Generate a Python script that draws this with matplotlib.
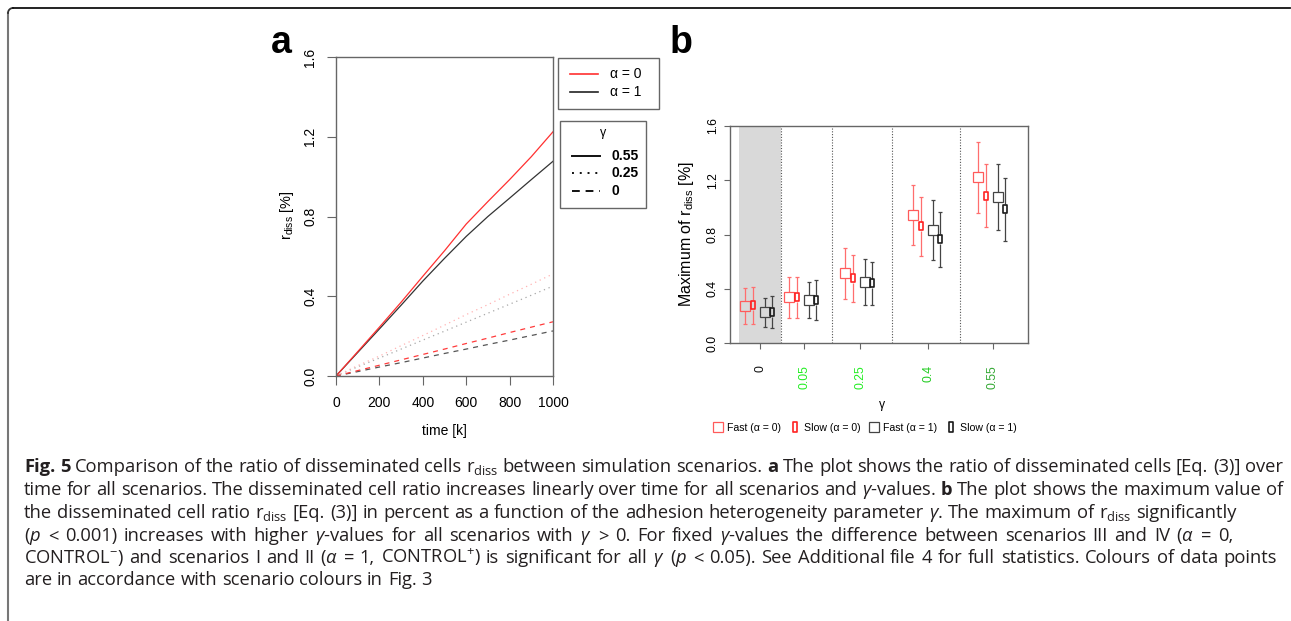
import matplotlib
matplotlib.use("Agg")
import matplotlib.pyplot as plt
from matplotlib.lines import Line2D
from matplotlib.patches import Rectangle
from matplotlib.path import Path
from matplotlib import font_manager as fm
import numpy as np

# ---------------- data ----------------
time_k = [0, 100, 200, 300, 400, 500, 600, 700, 800, 900, 1000]
a0_g055 = [0, 0.122, 0.245, 0.37, 0.50, 0.628, 0.762, 0.875, 0.985, 1.10, 1.225]
a1_g055 = [0, 0.118, 0.236, 0.355, 0.476, 0.59, 0.70, 0.80, 0.892, 0.985, 1.077]
a0_g025 = [0, 0.052, 0.10, 0.152, 0.203, 0.255, 0.308, 0.358, 0.41, 0.46, 0.512]
a1_g025 = [0, 0.046, 0.09, 0.135, 0.18, 0.225, 0.27, 0.315, 0.36, 0.405, 0.451]
a0_g0 = [0, 0.027, 0.054, 0.081, 0.108, 0.135, 0.163, 0.19, 0.218, 0.245, 0.272]
a1_g0 = [0, 0.022, 0.045, 0.067, 0.09, 0.113, 0.135, 0.158, 0.18, 0.203, 0.226]

gamma_labels = ["0", "0.05", "0.25", "0.4", "0.55"]
gamma_label_colors = ["#111111", "#22ee22", "#22ee22", "#22cc22", "#33a833"]

fast_a0_mean = [0.275, 0.339, 0.515, 0.945, 1.227]
fast_a0_lo = [0.14, 0.184, 0.326, 0.719, 0.962]
fast_a0_hi = [0.405, 0.486, 0.70, 1.168, 1.485]
slow_a0_mean = [0.28, 0.339, 0.478, 0.859, 1.087]
slow_a0_lo = [0.14, 0.184, 0.30, 0.638, 0.854]
slow_a0_hi = [0.41, 0.486, 0.65, 1.075, 1.318]
fast_a1_mean = [0.228, 0.314, 0.449, 0.834, 1.075]
fast_a1_lo = [0.115, 0.184, 0.277, 0.613, 0.834]
fast_a1_hi = [0.334, 0.447, 0.623, 1.055, 1.318]
slow_a1_mean = [0.23, 0.319, 0.44, 0.766, 0.991]
slow_a1_lo = [0.11, 0.172, 0.277, 0.557, 0.753]
slow_a1_hi = [0.346, 0.464, 0.60, 0.969, 1.22]

# "**" toggles bold
caption_lines = [
    r"**Fig. 5** Comparison of the ratio of disseminated cells r$_\mathregular{diss}$ between simulation scenarios. **a** The plot shows the ratio of disseminated cells [Eq. (3)] over",
    r"time for all scenarios. The disseminated cell ratio increases linearly over time for all scenarios and $\gamma$-values. **b** The plot shows the maximum value of",
    r"the disseminated cell ratio r$_\mathregular{diss}$ [Eq. (3)] in percent as a function of the adhesion heterogeneity parameter $\gamma$. The maximum of r$_\mathregular{diss}$ significantly",
    r"($p$ < 0.001) increases with higher $\gamma$-values for all scenarios with $\gamma$ > 0. For fixed $\gamma$-values the difference between scenarios III and IV ($\alpha$ = 0,",
    r"CONTROL$^{-}$) and scenarios I and II ($\alpha$ = 1, CONTROL$^{+}$) is significant for all $\gamma$ ($p$ < 0.05). See Additional file 4 for full statistics. Colours of data points",
    r"are in accordance with scenario colours in Fig. 3",
]


# ---------------- fonts ----------------
def font_ok(fam):
    try:
        reg = fm.findfont(fm.FontProperties(family=fam), fallback_to_default=False)
        bold = fm.findfont(fm.FontProperties(family=fam, weight="bold"), fallback_to_default=False)
        it = fm.findfont(fm.FontProperties(family=fam, style="italic"), fallback_to_default=False)
        return reg != bold and reg != it
    except Exception:
        return False


cap_family = next((f for f in ["Open Sans", "Noto Sans", "Lato", "Roboto", "Liberation Sans"]
                   if font_ok(f)), "DejaVu Sans")

W, H = 1291, 621
plt.rcParams["font.family"] = ["Liberation Sans", "DejaVu Sans"]
plt.rcParams["mathtext.fontset"] = "custom"
plt.rcParams["mathtext.rm"] = cap_family
plt.rcParams["mathtext.it"] = cap_family + ":italic"
plt.rcParams["mathtext.bf"] = cap_family + ":bold"

fig = plt.figure(figsize=(W / 100, H / 100), dpi=100)


def fx(px):
    return px / W


def fy(py):
    return 1 - py / H


def ax_rect(l, t, r, b):
    return [l / W, 1 - b / H, (r - l) / W, (b - t) / H]


SPINE = "#666666"

# ---------------- panel a ----------------
axA = fig.add_axes(ax_rect(336, 57, 553, 376))
series_a = [
    (a1_g0, "#555555", (0, (4, 4))),
    (a0_g0, "#ff3b3b", (0, (4, 4))),
    (a1_g025, "#a8a8a8", (0, (1, 3))),
    (a0_g025, "#ffb3b3", (0, (1, 3))),
    (a1_g055, "#333333", "-"),
    (a0_g055, "#ff3030", "-"),
]
for vals, col, ls in series_a:
    axA.plot(time_k, vals, color=col, lw=0.9, linestyle=ls)
axA.set_xlim(0, 1000)
axA.set_ylim(0, 1.6)
axA.set_xticks([0, 200, 400, 600, 800, 1000])
axA.set_yticks([0, 0.4, 0.8, 1.2, 1.6])
axA.set_yticklabels(["0.0", "0.4", "0.8", "1.2", "1.6"])
axA.tick_params(direction="out", length=6.5, width=0.8, color=SPINE, labelsize=10)
axA.tick_params(axis="x", pad=8)
axA.tick_params(axis="y", labelrotation=90, pad=7)
for lab in axA.get_yticklabels():
    lab.set_va("center")
for s in axA.spines.values():
    s.set_color(SPINE)
    s.set_linewidth(1.0)

fig.text(fx(444.5), fy(431), "time [k]", fontsize=10, ha="center", va="center")
fig.text(fx(287), fy(215), r"r$_\mathregular{diss}$ [%]", fontsize=10.5, ha="center",
         va="center", rotation=90)
fig.text(fx(271), fy(53), "a", fontsize=27, fontweight="bold", ha="left", va="baseline")

# legend boxes for panel a (drawn by hand, outside plotting region)
fig.add_artist(Rectangle((fx(558), fy(109)), (659 - 558) / W, (109 - 58) / H,
                         transform=fig.transFigure, fill=False, ec=SPINE, lw=1.0))
for yy, col, lab in [(74, "#ff3030", "\u03b1 = 0"), (92, "#222222", "\u03b1 = 1")]:
    fig.add_artist(Line2D([fx(570), fx(598)], [fy(yy), fy(yy)], color=col, lw=1.2))
    fig.text(fx(610), fy(yy), lab, fontsize=10, ha="left", va="center")

fig.add_artist(Rectangle((fx(560), fy(208)), (646 - 560) / W, (208 - 121) / H,
                         transform=fig.transFigure, fill=False, ec=SPINE, lw=1.0))
fig.text(fx(603), fy(133), "\u03b3", fontsize=9, ha="center", va="center")
for yy, ls, lab in [(156, "-", "0.55"), (173, (0, (1, 3)), "0.25"), (191, (0, (4, 3)), "0")]:
    fig.add_artist(Line2D([fx(572), fx(600)], [fy(yy), fy(yy)], color="#111111",
                          lw=1.4, linestyle=ls))
    fig.text(fx(612), fy(yy), lab, fontsize=10, fontweight="bold", ha="left", va="center")

# ---------------- panel b ----------------
axB = fig.add_axes(ax_rect(730, 126, 1028, 343))
AXW_PX = 1028 - 730
AXH_PX = 343 - 126
axB.set_xlim(0, AXW_PX)
axB.set_ylim(0, 1.6)
group_x = [30, 74, 130, 198, 263]
separators = [51, 102, 162, 230]
axB.axvspan(9, 51, color="#d9d9d9", zorder=0, lw=0)
for sx in separators:
    axB.axvline(sx, color="#555555", lw=0.8, linestyle=(0, (1, 1.5)), zorder=1)

px_to_y = 1.6 / AXH_PX
slow_marker = Path([(-0.2, -0.5), (0.2, -0.5), (0.2, 0.5), (-0.2, 0.5), (-0.2, -0.5)],
                   [Path.MOVETO, Path.LINETO, Path.LINETO, Path.LINETO, Path.CLOSEPOLY])

series_b = [
    (fast_a0_mean, fast_a0_lo, fast_a0_hi, -15, "#ff5a5a", "#ff6e6e", "s", 6.6, 0.9, 5.0),
    (slow_a0_mean, slow_a0_lo, slow_a0_hi, -7, "#ff2222", "#ff6e6e", slow_marker, 6.2, 1.2, 4.8),
    (fast_a1_mean, fast_a1_lo, fast_a1_hi, 5, "#444444", "#444444", "s", 6.6, 0.9, 5.0),
    (slow_a1_mean, slow_a1_lo, slow_a1_hi, 12, "#1a1a1a", "#444444", slow_marker, 6.2, 1.2, 4.8),
]
legend_handles = []
for mean, lo, hi, off, mcol, ecol, mk, ms, mew, gap_px in series_b:
    xs = np.array(group_x, dtype=float) + off
    mean = np.array(mean)
    gap = gap_px * px_to_y
    axB.vlines(xs, lo, mean - gap, color=ecol, lw=0.9, zorder=2)
    axB.vlines(xs, mean + gap, hi, color=ecol, lw=0.9, zorder=2)
    axB.hlines(lo, xs - 2, xs + 2, color=ecol, lw=0.9, zorder=2)
    axB.hlines(hi, xs - 2, xs + 2, color=ecol, lw=0.9, zorder=2)
    axB.plot(xs, mean, ls="none", marker=mk, ms=ms, mfc="none", mec=mcol, mew=mew, zorder=3)
    legend_handles.append(Line2D([], [], ls="none", marker=mk, ms=ms + 0.8, mfc="none",
                                 mec=mcol, mew=mew))

axB.set_yticks([0, 0.4, 0.8, 1.2, 1.6])
axB.set_yticklabels(["0.0", "0.4", "0.8", "1.2", "1.6"])
axB.set_xticks(group_x)
axB.set_xticklabels(gamma_labels)
axB.tick_params(direction="out", length=4, width=0.8, color=SPINE, labelsize=8.8)
axB.tick_params(axis="y", labelrotation=90, pad=4)
axB.tick_params(axis="x", labelrotation=90, pad=12)
for lab in axB.get_yticklabels():
    lab.set_va("center")
for lab, col in zip(axB.get_xticklabels(), gamma_label_colors):
    lab.set_color(col)
for s in axB.spines.values():
    s.set_color(SPINE)
    s.set_linewidth(1.0)

fig.text(fx(687), fy(234), r"Maximum of r$_\mathregular{diss}$ [%]", fontsize=11.5,
         ha="center", va="center", rotation=90)
fig.text(fx(882), fy(405), "\u03b3", fontsize=8.8, ha="center", va="center")
fig.text(fx(670), fy(53), "b", fontsize=27, fontweight="bold", ha="left", va="baseline")

fig.legend(legend_handles,
           ["Fast (\u03b1 = 0)", "Slow (\u03b1 = 0)", "Fast (\u03b1 = 1)", "Slow (\u03b1 = 1)"],
           loc="center", bbox_to_anchor=(fx(865), fy(428)), ncol=4, frameon=False,
           fontsize=7.6, handlelength=1.0, handletextpad=0.35, columnspacing=0.8,
           borderaxespad=0, borderpad=0)

# ---------------- frame ----------------
r = 5
t = np.linspace(0, np.pi / 2, 12)
arc_x = 8 + r - r * np.cos(t)
arc_y = 8 + r - r * np.sin(t)
fig.add_artist(Line2D([fx(8), fx(8)], [fy(8 + r), fy(H + 2)], color="#777777", lw=1.5))
fig.add_artist(Line2D(fx(arc_x), fy(arc_y), color="#333333", lw=1.3))
fig.add_artist(Line2D([fx(8 + r), fx(1290)], [fy(8), fy(8)], color="#111111", lw=1.3))

# ---------------- caption ----------------
renderer = fig.canvas.get_renderer()


def words_of(line):
    out = []
    for i, seg in enumerate(line.split("**")):
        bold = i % 2 == 1
        for w_ in seg.split(" "):
            if w_:
                out.append((w_, bold))
    return out


def measure(s, fs, bold):
    t_ = fig.text(0, 0, s, fontsize=fs, family=cap_family,
                  fontweight="bold" if bold else "normal")
    w_ = t_.get_window_extent(renderer).width
    t_.remove()
    return w_


def natural_space(fs):
    return measure("a a", fs, False) - measure("aa", fs, False)


def natural_width(line, fs):
    ws = words_of(line)
    return sum(measure(w_, fs, b) for w_, b in ws) + (len(ws) - 1) * natural_space(fs)


X0 = 24
cap_fs = 12 * (1283 - X0) / natural_width(caption_lines[0], 12)
line_ends = [1283, 1283, 1237, 1233, 1277, None]
baselines = [472, 495, 518, 541, 563, 585]
sp = natural_space(cap_fs)
for line, yb, end in zip(caption_lines, baselines, line_ends):
    ws = words_of(line)
    widths = [measure(w_, cap_fs, b) for w_, b in ws]
    gap = sp if end is None else (end - X0 - sum(widths)) / (len(ws) - 1)
    x = X0
    for (w_, b), wd in zip(ws, widths):
        fig.text(x / W, fy(yb), w_, fontsize=cap_fs, family=cap_family,
                 fontweight="bold" if b else "normal", va="baseline", ha="left",
                 color="#231f20")
        x += wd + gap

fig.savefig("out.png", dpi=100)
